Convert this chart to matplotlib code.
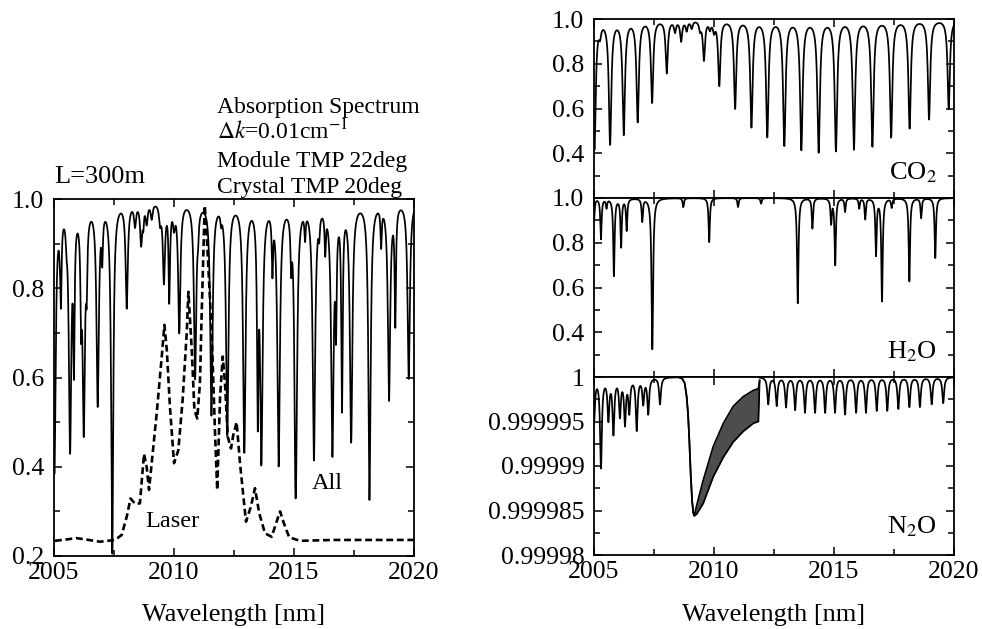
"""
Absorption spectrum figure: total transmission with laser profile (left)
and the CO2 / H2O / N2O contributions (right).
"""
import matplotlib
matplotlib.use('Agg')
import matplotlib.pyplot as plt
import numpy as np
from matplotlib.ticker import MultipleLocator, FixedLocator, FuncFormatter

plt.rcParams['font.family'] = 'serif'
plt.rcParams['font.serif'] = ['Liberation Serif', 'DejaVu Serif']
plt.rcParams['mathtext.fontset'] = 'stix'

# CO2 lines: centre [nm], transmission at line centre
co2_centers = [2005.02, 2005.25, 2005.67, 2006.24, 2006.82, 2007.42, 2008.03, 2008.375,
               2008.63, 2008.86, 2009.07, 2009.42, 2009.58, 2009.83, 2010.0, 2010.22,
               2010.88, 2011.56, 2012.22, 2012.93, 2013.64, 2014.36, 2015.08, 2015.83,
               2016.6, 2017.38, 2018.15, 2018.96, 2019.78]
co2_depth = [0.42, 0.95, 0.443, 0.487, 0.544, 0.63, 0.763, 0.95,
             0.907, 0.955, 0.965, 0.96, 0.822, 0.965, 0.955, 0.707,
             0.603, 0.52, 0.476, 0.437, 0.418, 0.407, 0.413, 0.42,
             0.433, 0.474, 0.514, 0.554, 0.60]

# H2O lines
h2o_centers = [2005.0, 2005.29, 2005.52, 2005.83, 2006.13, 2006.36, 2007.01, 2007.43,
               2008.72, 2009.8, 2011.0, 2011.96, 2013.49, 2014.1, 2014.88, 2015.05,
               2015.46, 2016.05, 2016.3, 2016.75, 2017.0, 2017.4, 2018.14, 2018.63,
               2019.22]
h2o_depth = [0.9, 0.818, 0.96, 0.653, 0.784, 0.858, 0.898, 0.324,
             0.96, 0.803, 0.96, 0.975, 0.53, 0.865, 0.89, 0.702,
             0.94, 0.955, 0.907, 0.747, 0.54, 0.96, 0.628, 0.912,
             0.732]

# N2O lines: centre [nm], deficit from 1 in units of 1e-6
n2o_centers = [2005.0, 2005.29, 2005.6, 2005.81, 2006.08, 2006.29, 2006.47, 2006.78,
               2007.05, 2007.26, 2007.75, 2012.26, 2012.61, 2013.0, 2013.38, 2013.79,
               2014.21, 2014.63, 2015.04, 2015.46, 2015.92, 2016.33, 2016.78, 2017.22,
               2017.68, 2018.14, 2018.58, 2019.07, 2019.55]
n2o_deficit = [5.0, 10.0, 4.5, 6.1, 4.1, 5.0, 3.7, 5.8,
               2.8, 4.0, 3.0, 3.0, 3.15, 3.3, 3.6, 3.9,
               3.9, 3.9, 3.9, 4.1, 3.9, 3.9, 3.7, 3.7,
               3.5, 3.3, 3.3, 3.0, 2.9]

# N2O band (dense unresolved lines): envelope, deficit in units of 1e-6
band_x = [2008.55, 2008.68, 2008.78, 2008.86, 2008.92, 2008.97, 2009.03, 2009.09,
          2009.14, 2009.18, 2009.28, 2009.55, 2009.97, 2010.39, 2010.80, 2011.22,
          2011.64, 2011.85, 2011.90]
band_upper = [0.05, 0.2, 0.7, 2.2, 4.2, 7.0, 11.0, 14.0,
              15.3, 15.6, 14.4, 11.6, 7.8, 5.2, 3.3, 2.2,
              1.5, 1.3, 0.4]
band_lower = [0.05, 0.2, 0.7, 2.2, 4.2, 7.0, 11.0, 14.0,
              15.3, 15.6, 15.4, 14.2, 11.2, 9.0, 7.3, 6.1,
              5.2, 5.0, 0.4]

# laser transmission profile (dashed)
laser_x = [2005.04, 2005.95, 2006.92, 2007.54, 2007.82, 2008.03, 2008.19, 2008.375,
           2008.58, 2008.75, 2008.86, 2008.96, 2009.07, 2009.28, 2009.49, 2009.6,
           2009.7, 2009.83, 2010.0, 2010.18, 2010.36, 2010.53, 2010.6, 2010.74,
           2010.85, 2010.97, 2011.08, 2011.15, 2011.22, 2011.28, 2011.36, 2011.57,
           2011.71, 2011.8, 2011.92, 2012.03, 2012.125, 2012.24, 2012.375, 2012.47,
           2012.61, 2012.75, 2013.0, 2013.2, 2013.375, 2013.55, 2013.79, 2014.07,
           2014.25, 2014.42, 2014.58, 2014.8, 2015.25, 2016.64, 2018.03, 2019.97]
laser_y = [0.234, 0.240, 0.232, 0.236, 0.247, 0.288, 0.329, 0.317,
           0.318, 0.429, 0.400, 0.348, 0.408, 0.520, 0.647, 0.718,
           0.662, 0.535, 0.408, 0.437, 0.550, 0.700, 0.792, 0.662,
           0.527, 0.508, 0.587, 0.736, 0.871, 0.985, 0.923, 0.700,
           0.475, 0.348, 0.557, 0.647, 0.587, 0.467, 0.441, 0.471,
           0.500, 0.408, 0.277, 0.310, 0.352, 0.296, 0.251, 0.243,
           0.273, 0.300, 0.273, 0.242, 0.234, 0.236, 0.236, 0.236]

wl = np.arange(2005.0, 2020.0001, 0.002)


def lorentz_sum(x, centers, strengths, hw):
    total = np.zeros_like(x)
    for c, s in zip(centers, strengths):
        total += s * hw ** 2 / ((x - c) ** 2 + hw ** 2)
    return total


co2_t = np.exp(-lorentz_sum(wl, co2_centers, -np.log(co2_depth), 0.05))
h2o_t = np.exp(-lorentz_sum(wl, h2o_centers, -np.log(h2o_depth), 0.03))
n2o_t = 1.0 - 1e-6 * lorentz_sum(wl, n2o_centers, n2o_deficit, 0.045)
all_t = co2_t * h2o_t * n2o_t

W, H = 982, 629
fig = plt.figure(figsize=(W / 100, H / 100), dpi=100)
fig.patch.set_facecolor('white')


def frac(left, top, right, bottom):
    return [left / W, 1 - bottom / H, (right - left) / W, (bottom - top) / H]


ax_all = fig.add_axes(frac(54, 199, 414, 556))
ax_co2 = fig.add_axes(frac(594, 19, 954, 198))
ax_h2o = fig.add_axes(frac(594, 198, 954, 377))
ax_n2o = fig.add_axes(frac(594, 377, 954, 555))

for ax in (ax_all, ax_co2, ax_h2o, ax_n2o):
    ax.set_xlim(2005, 2020)
    ax.xaxis.set_major_locator(MultipleLocator(5))
    ax.xaxis.set_minor_locator(MultipleLocator(2.5))
    ax.tick_params(which='both', direction='in', top=True, right=True,
                   width=1.1, labelsize=18.5)
    ax.tick_params(which='major', length=6)
    ax.tick_params(which='minor', length=4)
    ax.tick_params(axis='y', pad=7)
    ax.tick_params(axis='x', pad=4)
    for sp in ax.spines.values():
        sp.set_linewidth(1.3)

# left: all gases and laser
ax_all.plot(wl, all_t, color='black', lw=1.25)
ax_all.plot(laser_x, laser_y, color='black', lw=1.9, linestyle=(0, (2.6, 1.4)))
ax_all.set_ylim(0.2, 1.0)
ax_all.yaxis.set_major_locator(FixedLocator([0.2, 0.4, 0.6, 0.8, 1.0]))
ax_all.yaxis.set_minor_locator(FixedLocator([0.3, 0.5, 0.7, 0.9]))
ax_all.yaxis.set_major_formatter(FuncFormatter(lambda v, p: '%.1f' % v))

ax_all.text(2005.0, 1.036, 'L=300m', fontsize=19, va='baseline')
info = ['Absorption Spectrum', '$\\Delta k$=0.01cm$^{-1}$',
        'Module TMP 22deg', 'Crystal TMP 20deg']
for line, yv in zip(info, [1.193, 1.134, 1.072, 1.013]):
    ax_all.text(2011.79, yv, line, fontsize=17, va='baseline')
ax_all.text(2008.79, 0.265, 'Laser', fontsize=17.5, va='baseline')
ax_all.text(2015.75, 0.35, 'All', fontsize=17.5, va='baseline')

# right: individual gases
for ax, trans, name in ((ax_co2, co2_t, 'CO$_2$'), (ax_h2o, h2o_t, 'H$_2$O')):
    ax.plot(wl, trans, color='black', lw=1.25)
    ax.set_ylim(0.2, 1.0)
    ax.yaxis.set_major_locator(FixedLocator([0.4, 0.6, 0.8, 1.0]))
    ax.yaxis.set_minor_locator(FixedLocator([0.3, 0.5, 0.7, 0.9]))
    ax.yaxis.set_major_formatter(FuncFormatter(lambda v, p: '%.1f' % v))
    ax.tick_params(axis='x', labelbottom=False)
    ax.text(2019.3, 0.282, name, fontsize=19, ha='right', va='baseline')

band_lo, band_hi = band_x[0], band_x[-1]
outside = (wl <= band_lo) | (wl >= band_hi)
n2o_line = np.where(outside, n2o_t, np.nan)
ax_n2o.plot(wl, n2o_line, color='black', lw=1.25)
upper = 1.0 - 1e-6 * np.array(band_upper)
lower = 1.0 - 1e-6 * np.array(band_lower)
ax_n2o.fill_between(band_x, lower, upper, color='0.3', lw=0)
ax_n2o.plot(band_x, upper, color='black', lw=1.25)
ax_n2o.plot(band_x, lower, color='black', lw=1.25)
ax_n2o.set_ylim(0.99998, 1.0)
ax_n2o.yaxis.set_major_locator(FixedLocator([0.99998, 0.999985, 0.99999, 0.999995, 1.0]))
ax_n2o.yaxis.set_minor_locator(FixedLocator([0.9999825, 0.9999875, 0.9999925, 0.9999975]))
ax_n2o.yaxis.set_major_formatter(FuncFormatter(lambda v, p: '%g' % v))
ax_n2o.text(2019.3, 1.0 - 17.56e-6, 'N$_2$O', fontsize=19, ha='right', va='baseline')

fig.text(234 / W, 1 - 615 / H, 'Wavelength [nm]', fontsize=19, ha='center', va='center')
fig.text(774 / W, 1 - 615 / H, 'Wavelength [nm]', fontsize=19, ha='center', va='center')

fig.savefig('out.png', dpi=100, facecolor='white')
plt.close(fig)
